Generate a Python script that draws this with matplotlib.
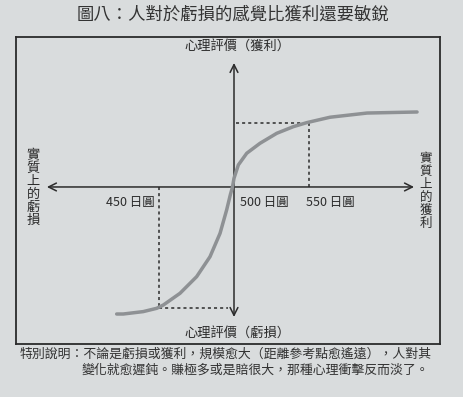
import numpy as np
import matplotlib
matplotlib.use("Agg")
import matplotlib.pyplot as plt

plt.rcParams['font.family'] = ['Noto Sans CJK TC', 'DejaVu Sans']

yen = [421.8, 426.2, 439.5, 448.5, 452.9, 464, 475.1, 484, 490.7, 495.1,
       497.6, 499, 500, 502.9, 508.5, 517.3, 528.5, 539.5, 548.5, 564,
       588.7, 622]
value = [-84.7, -84.7, -83.1, -80.9, -78.7, -70.9, -59.8, -46.5, -30.9, -15.3,
         -5, 0, 5.8, 14.7, 22.5, 29.1, 35.8, 40.2, 42.9, 46.5,
         49.3, 50]

ref_points = [450, 500, 550]
ref_labels = ["450 日圓", "500 日圓", "550 日圓"]
loss_value = -81
gain_value = 42.9

title = "圖八：人對於虧損的感覺比獲利還要敏銳"
note1 = "特別說明：不論是虧損或獲利，規模愈大（距離參考點愈遙遠），人對其"
note2 = "變化就愈遲鈍。賺極多或是賠很大，那種心理衝擊反而淡了。"

W, H = 463, 397
bg = '#d9dcdd'
ink = '#2b2b2b'

fig = plt.figure(figsize=(W / 100, H / 100), dpi=100, facecolor=bg)


def fx(x):
    return x / W


def fy(y):
    return 1 - y / H


# the framed box is the axes
ax = fig.add_axes([fx(16), fy(344), fx(440) - fx(16), fy(37) - fy(344)])
ax.set_facecolor(bg)
ax.set_xlim(354.7, 637.3)
ax.set_ylim(-104.7, 100)
ax.set_xticks([])
ax.set_yticks([])
for s in ax.spines.values():
    s.set_color(ink)
    s.set_linewidth(1.3)

# axes arrows
ax.annotate("", xy=(375.3, 0), xytext=(620, 0),
            arrowprops=dict(arrowstyle="<->", color=ink, lw=1.1,
                            mutation_scale=14, shrinkA=0, shrinkB=0))
ax.annotate("", xy=(500, 82.7), xytext=(500, -86.7),
            arrowprops=dict(arrowstyle="<->", color=ink, lw=1.1,
                            mutation_scale=14, shrinkA=0, shrinkB=0))

# dotted guides
dots = (0, (2, 2))
ax.plot([450, 450], [0, loss_value], color=ink, lw=1.1, linestyle=dots)
ax.plot([450, 496], [loss_value, loss_value], color=ink, lw=1.1, linestyle=dots)
ax.plot([550, 550], [0, gain_value], color=ink, lw=1.1, linestyle=dots)
ax.plot([501.5, 550], [gain_value, gain_value], color=ink, lw=1.1, linestyle=dots)

# value curve
ax.plot(yen, value, color='#8e9194', lw=2.5, solid_capstyle='round',
        solid_joinstyle='round', zorder=3)

# reference point labels
ax.text(ref_points[0] - 3, -6, ref_labels[0], ha='right', va='top',
        fontsize=9, color=ink)
ax.text(ref_points[1] + 4, -6, ref_labels[1], ha='left', va='top',
        fontsize=9, color=ink)
ax.text(ref_points[2] - 2, -6, ref_labels[2], ha='left', va='top',
        fontsize=9, color=ink)

# texts around the chart
fig.text(fx(233), fy(15), title, ha='center', va='center', fontsize=12.5, color='#333333')
fig.text(fx(237), fy(47), "心理評價（獲利）", ha='center', va='center', fontsize=9.5, color=ink)
fig.text(fx(237), fy(334), "心理評價（虧損）", ha='center', va='center', fontsize=9.5, color=ink)
fig.text(fx(33), fy(188), "\n".join("實質上的虧損"), ha='center', va='center',
         fontsize=9.5, color=ink, linespacing=1.0)
fig.text(fx(426), fy(191), "\n".join("實質上的獲利"), ha='center', va='center',
         fontsize=9, color=ink, linespacing=1.0)

fig.text(fx(20), fy(354), note1, ha='left', va='center', fontsize=9.3, color='#333333')
fig.text(fx(82), fy(370), note2, ha='left', va='center', fontsize=9.3, color='#333333')

fig.savefig("out.png", dpi=100, facecolor=bg)
